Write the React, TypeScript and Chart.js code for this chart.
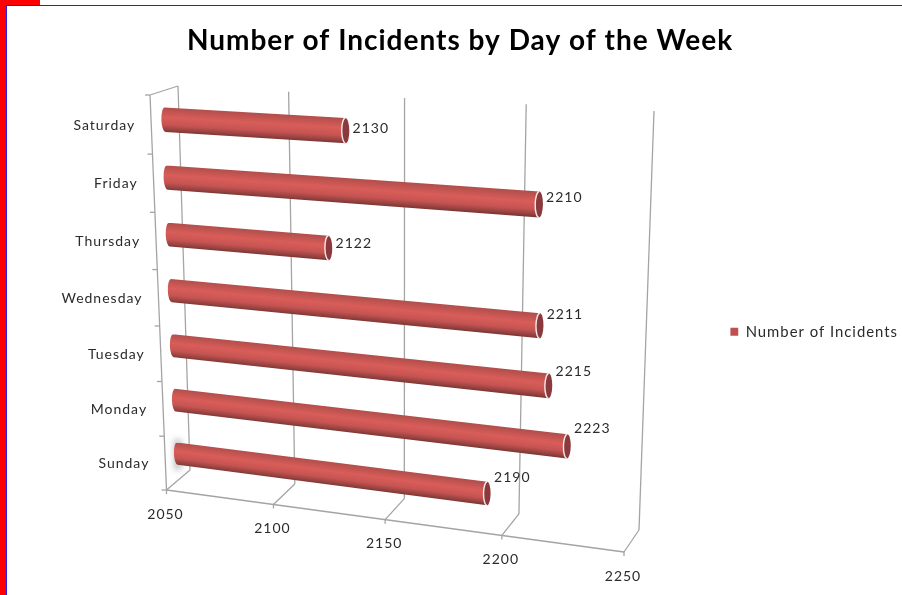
import React, { useEffect, useRef } from "react";
import { Chart, registerables } from "chart.js";

Chart.register(...registerables);

const days = ["Sunday", "Monday", "Tuesday", "Wednesday", "Thursday", "Friday", "Saturday"];
const incidents = [2190, 2223, 2215, 2211, 2122, 2210, 2130];
const seriesName = "Number of Incidents";
const chartTitle = "Number of Incidents by Day of the Week";
const axisMin = 2050;
const axisMax = 2250;
const axisStep = 50;

type Pt = { x: number; y: number };
// perspective box corners: top-left, top-right, bottom-right, bottom-left
const frontQuad: Pt[] = [{ x: 150, y: 95 }, { x: 634, y: 122 }, { x: 624, y: 552 }, { x: 166.5, y: 490 }];
const backQuad: Pt[] = [{ x: 178, y: 86 }, { x: 654, y: 111 }, { x: 639, y: 530 }, { x: 190, y: 470 }];

function project(u: number, v: number, depth: number): Pt {
  const q = frontQuad.map((p, i) => ({
    x: p.x + (backQuad[i].x - p.x) * depth,
    y: p.y + (backQuad[i].y - p.y) * depth,
  }));
  const [p0, p1, p2, p3] = q;
  const dx1 = p1.x - p2.x, dx2 = p3.x - p2.x, sx = p0.x - p1.x + p2.x - p3.x;
  const dy1 = p1.y - p2.y, dy2 = p3.y - p2.y, sy = p0.y - p1.y + p2.y - p3.y;
  const det = dx1 * dy2 - dx2 * dy1;
  const g = (sx * dy2 - dx2 * sy) / det;
  const h = (dx1 * sy - sx * dy1) / det;
  const a = p1.x - p0.x + g * p1.x, b = p3.x - p0.x + h * p3.x;
  const d = p1.y - p0.y + g * p1.y, e = p3.y - p0.y + h * p3.y;
  const w = g * u + h * v + 1;
  return { x: (a * u + b * v + p0.x) / w, y: (d * u + e * v + p0.y) / w };
}

const GRID = "#a4a4a4";
const TEXT = "#2b2b2b";
const TICK_FONT = '14px Lato';

const perspectivePlugin = {
  id: "perspective",
  beforeLayout(chart: any) {
    chart.ctx.letterSpacing = "1px";
  },
  beforeDraw(chart: any) {
    const { ctx, scales, chartArea } = chart;
    ctx.letterSpacing = "1px";
    const xs = scales.x;
    const ys = scales.y;
    ctx.save();
    ctx.strokeStyle = GRID;
    ctx.lineWidth = 1.3;
    const seg = (a: Pt, b: Pt) => {
      ctx.beginPath();
      ctx.moveTo(a.x, a.y);
      ctx.lineTo(b.x, b.y);
      ctx.stroke();
    };
    // walls and floor
    seg(project(0, 0, 0), project(0, 1, 0));
    seg(project(0, 1, 0), project(1, 1, 0));
    seg(project(0, 0, 0), project(0, 0, 1));
    ctx.font = TICK_FONT;
    ctx.fillStyle = TEXT;
    ctx.textAlign = "center";
    ctx.textBaseline = "middle";
    xs.ticks.forEach((t: any) => {
      const u = (xs.getPixelForValue(t.value) - chartArea.left) / chartArea.width;
      seg(project(u, 1, 1), project(u, 0, 1));
      seg(project(u, 1, 0), project(u, 1, 1));
      const f = project(u, 1, 0);
      seg(f, { x: f.x, y: f.y + 4 });
      ctx.fillText(String(t.value), f.x - 1, f.y + 24);
    });
    const n = days.length;
    for (let i = 0; i <= n; i++) {
      const p = project(0, i / n, 0);
      seg(p, { x: p.x - 5, y: p.y });
    }
    ctx.textAlign = "right";
    ys.getLabels().forEach((label: string, i: number) => {
      const v = (ys.getPixelForValue(i) - chartArea.top) / chartArea.height;
      const p = project(0, v, 0);
      ctx.fillText(label, p.x - 16, p.y + 0.5);
    });
    // smudge behind the first bar
    ctx.filter = "blur(3px)";
    ctx.fillStyle = "rgba(140,140,140,0.6)";
    const s = project(0, 1 - 0.5 / n, 0.5);
    ctx.fillRect(s.x - 3, s.y - 14, 7, 30);
    ctx.filter = "none";
    ctx.restore();
  },
  beforeDatasetDraw(chart: any, args: any) {
    const { ctx, chartArea } = chart;
    const meta = args.meta;
    ctx.save();
    meta.data.forEach((bar: any, i: number) => {
      const props = bar.getProps(["x", "y", "base", "height"], true);
      const uStart = (props.base - chartArea.left) / chartArea.width;
      const uEnd = (props.x - chartArea.left) / chartArea.width;
      const vTop = (props.y - props.height / 2 - chartArea.top) / chartArea.height;
      const vBot = (props.y + props.height / 2 - chartArea.top) / chartArea.height;
      const vMid = (vTop + vBot) / 2;
      const depth = 0.5;
      const sT = project(uStart, vTop, depth), sB = project(uStart, vBot, depth);
      const eT = project(uEnd, vTop, depth), eB = project(uEnd, vBot, depth);
      const sC = project(uStart, vMid, depth), eC = project(uEnd, vMid, depth);
      const sR = Math.hypot(sB.x - sT.x, sB.y - sT.y) / 2;
      const eR = Math.hypot(eB.x - eT.x, eB.y - eT.y) / 2;
      const sRot = Math.atan2(sB.y - sT.y, sB.x - sT.x);
      const eRot = Math.atan2(eB.y - eT.y, eB.x - eT.x);
      // tube
      const mx = (sC.x + eC.x) / 2, my = (sC.y + eC.y) / 2;
      const ang = Math.atan2(eC.y - sC.y, eC.x - sC.x) + Math.PI / 2;
      const r = (sR + eR) / 2;
      const grad = ctx.createLinearGradient(
        mx - Math.cos(ang) * r, my - Math.sin(ang) * r,
        mx + Math.cos(ang) * r, my + Math.sin(ang) * r
      );
      grad.addColorStop(0, "#b04e4b");
      grad.addColorStop(0.4, "#d95d59");
      grad.addColorStop(0.7, "#c65452");
      grad.addColorStop(0.9, "#964240");
      grad.addColorStop(1, "#7d3634");
      const capX = 0.3;
      ctx.beginPath();
      ctx.moveTo(sT.x, sT.y);
      ctx.lineTo(eT.x, eT.y);
      ctx.lineTo(eB.x, eB.y);
      ctx.lineTo(sB.x, sB.y);
      ctx.ellipse(sC.x, sC.y, sR, sR * capX, sRot, 0, Math.PI);
      ctx.closePath();
      ctx.fillStyle = grad;
      ctx.fill();
      // end face
      ctx.beginPath();
      ctx.ellipse(eC.x, eC.y, eR, eR * capX, eRot, 0, Math.PI * 2);
      ctx.fillStyle = "#8a3a3c";
      ctx.fill();
      ctx.strokeStyle = "rgba(245,235,235,1)";
      ctx.lineWidth = 1.4;
      ctx.beginPath();
      ctx.ellipse(eC.x, eC.y, eR, eR * capX, eRot, 0, Math.PI);
      ctx.stroke();
      // value label
      ctx.font = TICK_FONT;
      ctx.fillStyle = TEXT;
      ctx.textAlign = "left";
      ctx.textBaseline = "middle";
      const lift = uEnd * (4.5 + 20 * vMid);
      ctx.fillText(String(incidents[i]), eC.x + 7, eC.y - lift);
    });
    ctx.restore();
    return false;
  },
};

export default function App() {
  const ref = useRef<HTMLCanvasElement | null>(null);
  useEffect(() => {
    if (!ref.current) return;
    const chart = new Chart(ref.current, {
      type: "bar",
      data: {
        labels: days,
        datasets: [
          {
            label: seriesName,
            data: incidents,
            base: axisMin,
            backgroundColor: "#c0504d",
            borderColor: "#c0504d",
            barPercentage: 0.42,
            categoryPercentage: 1,
          },
        ],
      },
      options: {
        indexAxis: "y",
        animation: false,
        responsive: false,
        layout: { padding: { left: 12, top: 10, right: -6, bottom: 0 } },
        scales: {
          x: { display: false, min: axisMin, max: axisMax, ticks: { stepSize: axisStep } },
          y: { display: false, reverse: true },
        },
        plugins: {
          title: {
            display: true,
            text: chartTitle,
            color: "#000000",
            font: { family: "Lato", size: 28, weight: "bold" },
            padding: { top: 14, bottom: 11 },
          },
          legend: {
            position: "right",
            fullSize: false,
            labels: {
              boxWidth: 8,
              boxHeight: 8,
              padding: 0,
              color: TEXT,
              font: { family: "Lato", size: 14.85 },
            },
          },
          tooltip: { enabled: false },
        },
      },
      plugins: [perspectivePlugin],
    } as any);
    return () => chart.destroy();
  }, []);
  return (
    <div style={{ position: "fixed", left: 0, top: 0, width: 902, height: 595, background: "#fff", overflow: "hidden" }}>
      <div style={{ position: "absolute", left: 0, top: 0, width: 40, height: 5, background: "#ff0000" }} />
      <div style={{ position: "absolute", left: 0, top: 0, width: 6, height: 595, background: "#ff0000" }} />
      <div style={{ position: "absolute", left: 6, top: 5, width: 896, height: 1, background: "#2020f0" }} />
      <div style={{ position: "absolute", left: 6, top: 5, width: 1, height: 590, background: "#2020f0" }} />
      <canvas ref={ref} width={902} height={595} style={{ position: "absolute", left: 0, top: 0, display: "block" }} />
    </div>
  );
}
